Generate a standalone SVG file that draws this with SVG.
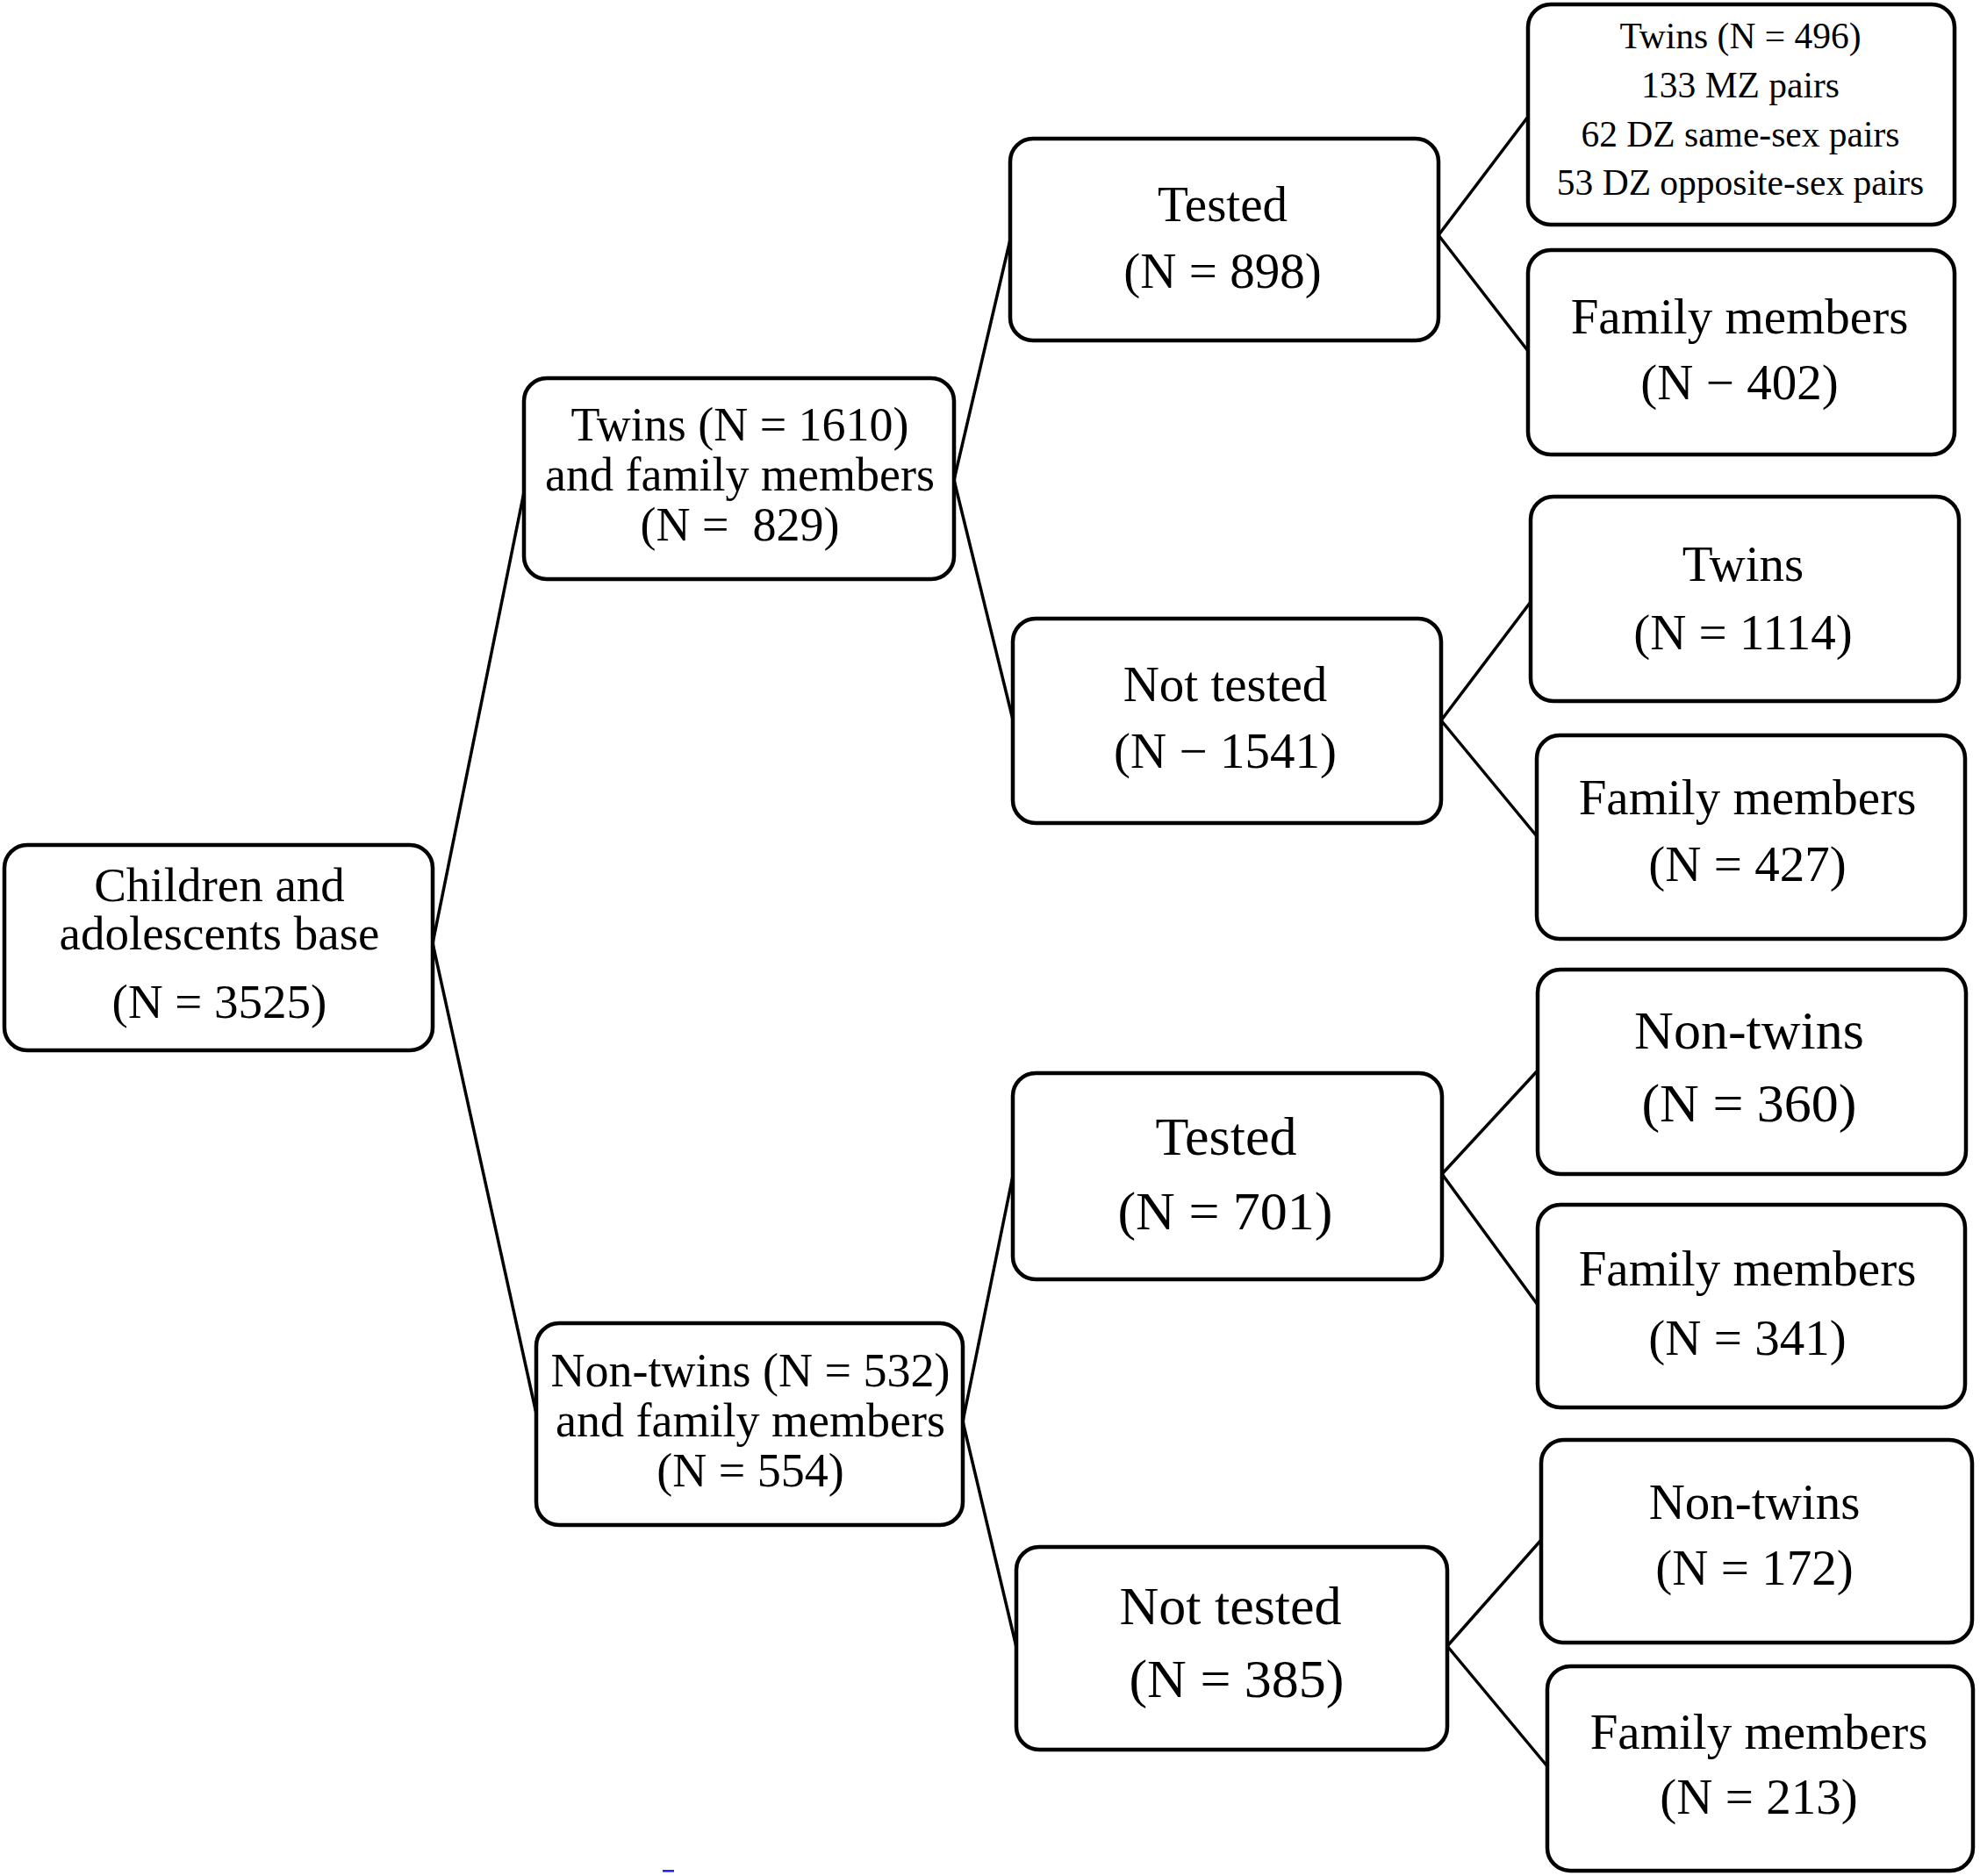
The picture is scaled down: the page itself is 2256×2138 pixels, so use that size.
<svg xmlns="http://www.w3.org/2000/svg" width="2256" height="2138" viewBox="0 0 2256 2138">
<style>
.box{fill:#fff;stroke:#000;stroke-width:4.5}
.t{font-family:"Liberation Serif","Times New Roman",serif;fill:#000;text-anchor:middle}
.base{font-size:55px}
.l{font-size:57px}
.xl{font-size:62px}
.m{font-size:54px}
.s{font-size:41.5px}
.c line{stroke:#000;stroke-width:3.5}
</style>
<rect width="2256" height="2138" fill="#fff"/>
<g class="c" id="connectors">
<line x1="493" y1="1075" x2="597" y2="561"/>
<line x1="493" y1="1075" x2="611" y2="1611"/>
<line x1="1087" y1="547" x2="1151" y2="273"/>
<line x1="1087" y1="547" x2="1154" y2="820"/>
<line x1="1097" y1="1620" x2="1154" y2="1340"/>
<line x1="1097" y1="1620" x2="1158" y2="1877"/>
<line x1="1639" y1="268" x2="1741" y2="133"/>
<line x1="1639" y1="268" x2="1741" y2="400"/>
<line x1="1642" y1="821" x2="1744" y2="686"/>
<line x1="1642" y1="821" x2="1751" y2="953"/>
<line x1="1643" y1="1338" x2="1752" y2="1220"/>
<line x1="1643" y1="1338" x2="1752" y2="1487"/>
<line x1="1649" y1="1876" x2="1756" y2="1755"/>
<line x1="1649" y1="1876" x2="1763" y2="2013"/>
</g>
<g id="n-base"><rect class="box" x="5" y="963" width="488" height="234" rx="26"/>
<text class="t base" x="250" y="1027">Children and</text>
<text class="t base" x="250" y="1082">adolescents base</text>
<text class="t base" x="250" y="1160">(N = 3525)</text></g>
<g id="n-twins"><rect class="box" x="597" y="431" width="490" height="229" rx="26"/>
<text class="t m" x="843" y="502">Twins (N = 1610)</text>
<text class="t m" x="843" y="559">and family members</text>
<text class="t m" x="843" y="616" style="white-space:pre">(N =  829)</text></g>
<g id="n-nontwins"><rect class="box" x="611" y="1508" width="486" height="230" rx="26"/>
<text class="t m" x="855" y="1580">Non-twins (N = 532)</text>
<text class="t m" x="855" y="1637">and family members</text>
<text class="t m" x="855" y="1694">(N = 554)</text></g>
<g id="n-tested1"><rect class="box" x="1151" y="158" width="488" height="230" rx="26"/>
<text class="t l" x="1393" y="252">Tested</text>
<text class="t l" x="1393" y="328">(N = 898)</text></g>
<g id="n-nottested1"><rect class="box" x="1154" y="705" width="488" height="233" rx="26"/>
<text class="t l" x="1396" y="799">Not tested</text>
<text class="t l" x="1396" y="875">(N − 1541)</text></g>
<g id="n-tested2"><rect class="box" x="1154" y="1223" width="489" height="235" rx="26"/>
<text class="t xl" x="1397" y="1316">Tested</text>
<text class="t xl" x="1396" y="1401">(N = 701)</text></g>
<g id="n-nottested2"><rect class="box" x="1158" y="1763" width="491" height="231" rx="26"/>
<text class="t xl" x="1402" y="1851">Not tested</text>
<text class="t xl" x="1409" y="1934">(N = 385)</text></g>
<g id="n-twins496"><rect class="box" x="1741" y="5" width="486" height="251" rx="26"/>
<text class="t s" x="1983" y="55">Twins (N = 496)</text>
<text class="t s" x="1983" y="111">133 MZ pairs</text>
<text class="t s" x="1983" y="167">62 DZ same-sex pairs</text>
<text class="t s" x="1983" y="222">53 DZ opposite-sex pairs</text></g>
<g id="n-fam402"><rect class="box" x="1741" y="285" width="486" height="233" rx="26"/>
<text class="t l" x="1982" y="380">Family members</text>
<text class="t l" x="1982" y="455">(N − 402)</text></g>
<g id="n-twins1114"><rect class="box" x="1744" y="566" width="488" height="233" rx="26"/>
<text class="t l" x="1986" y="662">Twins</text>
<text class="t l" x="1986" y="740">(N = 1114)</text></g>
<g id="n-fam427"><rect class="box" x="1751" y="838" width="488" height="232" rx="26"/>
<text class="t l" x="1991" y="928">Family members</text>
<text class="t l" x="1991" y="1004">(N = 427)</text></g>
<g id="n-nontwins360"><rect class="box" x="1752" y="1105" width="488" height="233" rx="26"/>
<text class="t xl" x="1993" y="1195">Non-twins</text>
<text class="t xl" x="1993" y="1278">(N = 360)</text></g>
<g id="n-fam341"><rect class="box" x="1752" y="1373" width="487" height="231" rx="26"/>
<text class="t l" x="1991" y="1465">Family members</text>
<text class="t l" x="1991" y="1544">(N = 341)</text></g>
<g id="n-nontwins172"><rect class="box" x="1756" y="1641" width="491" height="231" rx="26"/>
<text class="t l" x="1999" y="1731">Non-twins</text>
<text class="t l" x="1999" y="1806">(N = 172)</text></g>
<g id="n-fam213"><rect class="box" x="1763" y="1899" width="485" height="233" rx="26"/>
<text class="t l" x="2004" y="1993">Family members</text>
<text class="t l" x="2004" y="2067">(N = 213)</text></g>
<rect x="755" y="2131" width="13" height="2.5" fill="#1f1fff"/>
</svg>
